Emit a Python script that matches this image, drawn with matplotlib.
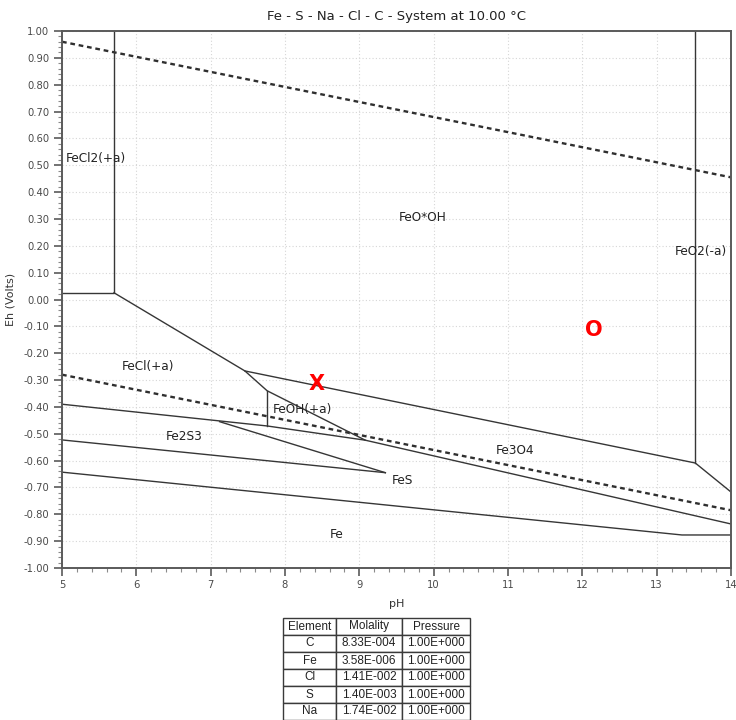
import matplotlib
matplotlib.use("Agg")
import matplotlib.pyplot as plt
from matplotlib.ticker import MultipleLocator

# water stability lines (dashed)
o2_ph = [5.0, 14.0]
o2_eh = [0.960, 0.455]
h2_ph = [5.0, 14.0]
h2_eh = [-0.280, -0.785]

# phase boundaries (solid), each one a polyline
feccl2_ph = [5.0, 5.70, 5.70]
feccl2_eh = [0.025, 0.025, 1.0]
fecl_top_ph = [5.70, 7.46, 7.76, 9.08]
fecl_top_eh = [0.025, -0.266, -0.340, -0.524]
fe3o4_top_ph = [7.46, 13.52, 14.0]
fe3o4_top_eh = [-0.266, -0.609, -0.717]
feo2_ph = [13.52, 13.52]
feo2_eh = [1.0, -0.609]
feoh_ph = [7.76, 7.76]
feoh_eh = [-0.340, -0.471]
fe2s3_top_ph = [5.0, 7.76, 9.08, 14.0]
fe2s3_top_eh = [-0.390, -0.471, -0.524, -0.836]
fes_up_ph = [7.12, 9.35]
fes_up_eh = [-0.455, -0.645]
fes_lo_ph = [5.0, 9.35]
fes_lo_eh = [-0.523, -0.645]
fe_top_ph = [5.0, 13.34, 14.0]
fe_top_eh = [-0.643, -0.877, -0.877]

boundaries = [
    (feccl2_ph, feccl2_eh), (fecl_top_ph, fecl_top_eh),
    (fe3o4_top_ph, fe3o4_top_eh), (feo2_ph, feo2_eh),
    (feoh_ph, feoh_eh), (fe2s3_top_ph, fe2s3_top_eh),
    (fes_up_ph, fes_up_eh), (fes_lo_ph, fes_lo_eh),
    (fe_top_ph, fe_top_eh),
]

# region labels: text, pH, Eh, horizontal alignment
region_names = ["FeCl2(+a)", "FeO*OH", "FeO2(-a)", "FeCl(+a)", "Fe2S3",
                "FeOH(+a)", "FeS", "Fe3O4", "Fe"]
region_ph = [5.05, 9.85, 13.25, 6.16, 6.65, 7.84, 9.58, 11.10, 8.70]
region_eh = [0.527, 0.304, 0.177, -0.248, -0.511, -0.411, -0.675, -0.563, -0.877]
region_ha = ["left", "center", "left", "center", "center", "left", "center",
             "center", "center"]

# sample points
marks = ["X", "O"]
marks_ph = [8.42, 12.15]
marks_eh = [-0.316, -0.113]

# composition table
tbl_cols = ["Element", "Molality", "Pressure"]
tbl_elem = ["C", "Fe", "Cl", "S", "Na"]
tbl_mol = ["8.33E-004", "3.58E-006", "1.41E-002", "1.40E-003", "1.74E-002"]
tbl_pres = ["1.00E+000"] * 5

line_c = "#363636"
tick_c = "#4a4a4a"

fig = plt.figure(figsize=(7.36, 7.2), dpi=100)
ax = fig.add_axes([62 / 736, 1 - 568 / 720, 669 / 736, 537 / 720])

ax.set_xlim(5, 14)
ax.set_ylim(-1.0, 1.0)
ax.xaxis.set_major_locator(MultipleLocator(1))
ax.xaxis.set_minor_locator(MultipleLocator(0.2))
ax.yaxis.set_major_locator(MultipleLocator(0.1))
ax.yaxis.set_minor_locator(MultipleLocator(0.02))
ax.set_yticks(ax.get_yticks())
ax.set_yticklabels([f"{v:.2f}" for v in ax.get_yticks()])
ax.set_ylim(-1.0, 1.0)
ax.grid(True, which="major", color="#d6d6d6", linestyle=(0, (1, 2)), linewidth=0.8)
ax.set_axisbelow(True)

for sp in ax.spines.values():
    sp.set_color("#5a5a5a")
    sp.set_linewidth(1.4)
ax.tick_params(which="major", length=6, width=1.2, color="#5a5a5a",
               labelsize=7.2, labelcolor=tick_c, pad=3)
ax.tick_params(which="minor", length=3, width=0.8, color="#8a8a8a")

ax.plot(o2_ph, o2_eh, color="#2f2f2f", lw=1.7, ls=(0, (2.0, 1.6)))
ax.plot(h2_ph, h2_eh, color="#2f2f2f", lw=1.7, ls=(0, (2.0, 1.6)))
for xs, ys in boundaries:
    ax.plot(xs, ys, color=line_c, lw=1.0, solid_joinstyle="miter")

for name, x, y, ha in zip(region_names, region_ph, region_eh, region_ha):
    ax.text(x, y, name, ha=ha, va="center", fontsize=8.7, color="#222222")

for m, x, y in zip(marks, marks_ph, marks_eh):
    ax.text(x, y, m, ha="center", va="center", fontsize=15, color="red",
            fontweight="bold")

ax.set_xlabel("pH", fontsize=8, color="#333333", labelpad=6)
ax.set_ylabel("Eh (Volts)", fontsize=8, color="#333333", labelpad=6)
ax.set_title("Fe - S - Na - Cl - C - System at 10.00 °C", fontsize=9.5,
             color="#222222", pad=8)

# element table under the plot
tax = fig.add_axes([283 / 736, 0.0, 187 / 736, 102 / 720])
tax.axis("off")
cells = [list(r) for r in zip(tbl_elem, tbl_mol, tbl_pres)]
tbl = tax.table(cellText=cells, colLabels=tbl_cols, loc="center",
                cellLoc="center", bbox=[0, 0, 1, 1],
                colWidths=[53, 66, 68])
tbl.auto_set_font_size(False)
for (r, c), cell in tbl.get_celld().items():
    cell.set_edgecolor("#3a3a3a")
    cell.set_linewidth(1.0)
    cell.get_text().set_fontsize(8.5)
    cell.get_text().set_fontfamily("Liberation Sans")
    cell.get_text().set_color("#222222")

fig.savefig("out.png", dpi=100)
